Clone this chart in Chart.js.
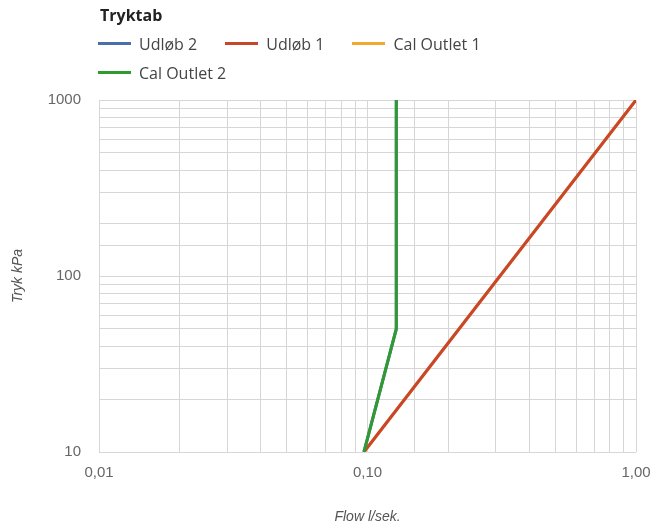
<!DOCTYPE html>
<html>
<head>
<meta charset="utf-8">
<script src="https://cdn.jsdelivr.net/npm/chart.js@4.4.1/dist/chart.umd.min.js"></script>
<style>
    html, body { margin: 0; padding: 0; background: #fff; }
    #wrap { position: relative; width: 653px; height: 528px; }
    #title {
        position: absolute; left: 100px; top: 4px;
        font: bold 16px "Open Sans", sans-serif; color: #222;
    }
    #legend {
        position: absolute; left: 98px; top: 32px; width: 460px;
        display: flex; flex-wrap: wrap; row-gap: 6px;
        font: 16px "Open Sans", sans-serif; color: #444;
    }
    .item { display: flex; align-items: center; margin-right: 28px; height: 23px; }
    .swatch { width: 33px; height: 3px; margin-right: 8px; }
</style>
</head>
<body>
<div id="wrap">
    <canvas id="chart" width="653" height="528"></canvas>
    <div id="title">Tryktab</div>
    <div id="legend"></div>
</div>
<script>
// --- DATA ---
const seriesNames  = ['Udløb 2', 'Udløb 1', 'Cal Outlet 1', 'Cal Outlet 2'];
const seriesColors = ['#4a70ab', '#c8462b', '#f2a72e', '#2f9a2f'];

// Flow (l/sek.) og tryk (kPa) pr. serie
const flowUdlob2 = [0.097, 0.128, 0.128];
const trykUdlob2 = [10, 50, 1000];
const flowUdlob1 = [0.097, 1.00];
const trykUdlob1 = [10, 1000];
const flowCal1   = [0.097, 1.00];
const trykCal1   = [10, 1000];
const flowCal2   = [0.097, 0.128, 0.128];
const trykCal2   = [10, 50, 1000];

const xTickLabels = ['0,01', '0,10', '1,00'];
const yTickLabels = ['10', '100', '1000'];

// --- HELPERS ---
function toPoints(xs, ys) {
    return xs.map((x, i) => ({ x: x, y: ys[i] }));
}

function isDecade(v) {
    const l = Math.log10(v);
    return Math.abs(l - Math.round(l)) < 1e-9;
}

// Rækkefølge: grøn over blå, rød over orange
const seriesData = [
    toPoints(flowUdlob2, trykUdlob2),
    toPoints(flowUdlob1, trykUdlob1),
    toPoints(flowCal1, trykCal1),
    toPoints(flowCal2, trykCal2)
];
const drawOrder = [4, 2, 3, 1];

// HTML legend
const legend = document.getElementById('legend');
seriesNames.forEach((name, i) => {
    const div = document.createElement('div');
    div.className = 'item';
    div.innerHTML = `<span class="swatch" style="background:${seriesColors[i]}"></span><span>${name}</span>`;
    legend.appendChild(div);
});

const gridColor = '#d6d6d6';
const tickFont = { family: '"Liberation Sans", Arial, sans-serif', size: 15 };
const titleFont = { family: '"Liberation Sans", Arial, sans-serif', size: 14, style: 'italic' };

new Chart(document.getElementById('chart'), {
    type: 'line',
    data: {
        datasets: seriesNames.map((name, i) => ({
            label: name,
            data: seriesData[i],
            borderColor: seriesColors[i],
            backgroundColor: seriesColors[i],
            borderWidth: 3,
            pointRadius: 0,
            tension: 0,
            order: drawOrder[i]
        }))
    },
    options: {
        responsive: false,
        animation: false,
        layout: { padding: { top: 100, right: 17, left: 0, bottom: 0 } },
        plugins: {
            legend: { display: false },
            tooltip: { enabled: false }
        },
        scales: {
            x: {
                type: 'logarithmic',
                min: 0.01,
                max: 1,
                afterFit: s => { s.height = 76; s.paddingLeft = 0; s.paddingRight = 0; },
                grid: { color: gridColor, lineWidth: 1, drawTicks: false },
                border: { display: false },
                ticks: {
                    autoSkip: false,
                    maxRotation: 0,
                    padding: 12,
                    color: '#666',
                    font: tickFont,
                    callback: v => isDecade(v) ? xTickLabels[Math.round(Math.log10(v)) + 2] : ''
                },
                title: {
                    display: true,
                    text: 'Flow l/sek.',
                    color: '#555',
                    font: titleFont,
                    padding: { top: 0, bottom: 2 }
                }
            },
            y: {
                type: 'logarithmic',
                min: 10,
                max: 1000,
                afterFit: s => { s.width = 99; s.paddingTop = 0; s.paddingBottom = 0; },
                grid: { color: gridColor, lineWidth: 1, drawTicks: false },
                border: { display: false },
                ticks: {
                    autoSkip: false,
                    padding: 18,
                    color: '#666',
                    font: tickFont,
                    callback: v => isDecade(v) ? yTickLabels[Math.round(Math.log10(v)) - 1] : ''
                },
                title: {
                    display: true,
                    text: 'Tryk kPa',
                    color: '#555',
                    font: titleFont,
                    padding: { top: 10, bottom: 0 }
                }
            }
        }
    }
});
</script>
</body>
</html>
